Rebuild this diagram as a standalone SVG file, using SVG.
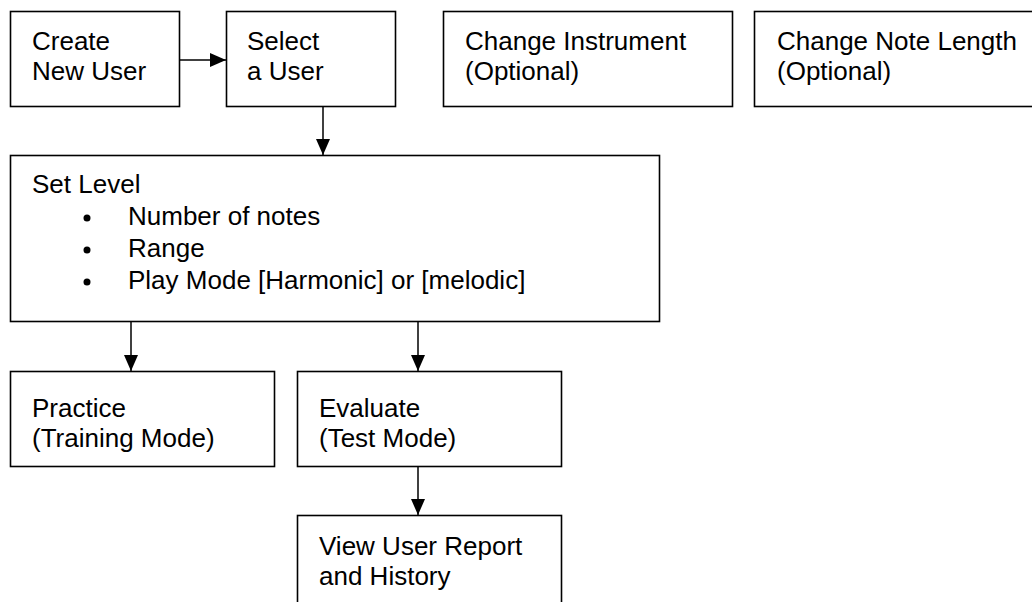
<svg xmlns="http://www.w3.org/2000/svg" width="1032" height="602" viewBox="0 0 1032 602">
<defs>
<marker id="arr" markerWidth="16" markerHeight="14" refX="16" refY="7" orient="auto" markerUnits="userSpaceOnUse">
<path d="M0,0 L16,7 L0,14 Z" fill="#000"/>
</marker>
<style>
.box{fill:#fff;stroke:#000;stroke-width:1.6}
.t{font-family:"Liberation Sans",Arial,sans-serif;font-size:26px;fill:#000}
.c{fill:none;stroke:#000;stroke-width:1.5}
</style>
</defs>
<rect width="1032" height="602" fill="#fff"/>
<g id="create">
<rect class="box" x="10.5" y="11.5" width="169" height="95"/>
<text class="t" x="32" y="50">Create</text>
<text class="t" x="32" y="80">New User</text>
</g>
<g id="select">
<rect class="box" x="226.5" y="11.5" width="169" height="95"/>
<text class="t" x="247" y="50">Select</text>
<text class="t" x="247" y="80">a User</text>
</g>
<g id="instrument">
<rect class="box" x="443.5" y="11.5" width="289" height="95"/>
<text class="t" x="465" y="50">Change Instrument</text>
<text class="t" x="465" y="80">(Optional)</text>
</g>
<g id="notelength">
<rect class="box" x="754.5" y="11.5" width="289" height="95"/>
<text class="t" x="777" y="50">Change Note Length</text>
<text class="t" x="777" y="80">(Optional)</text>
</g>
<g id="setlevel">
<rect class="box" x="10.5" y="155.5" width="649" height="166"/>
<text class="t" x="32" y="193">Set Level</text>
<circle cx="87" cy="218" r="3.5"/>
<text class="t" x="128" y="225">Number of notes</text>
<circle cx="87" cy="250" r="3.5"/>
<text class="t" x="128" y="257">Range</text>
<circle cx="87" cy="282" r="3.5"/>
<text class="t" x="128" y="289">Play Mode [Harmonic] or [melodic]</text>
</g>
<g id="practice">
<rect class="box" x="10.5" y="371.5" width="264" height="95"/>
<text class="t" x="32" y="417">Practice</text>
<text class="t" x="32" y="447">(Training Mode)</text>
</g>
<g id="evaluate">
<rect class="box" x="297.5" y="371.5" width="264" height="95"/>
<text class="t" x="319" y="417">Evaluate</text>
<text class="t" x="319" y="447">(Test Mode)</text>
</g>
<g id="report">
<rect class="box" x="297.5" y="515.5" width="264" height="120"/>
<text class="t" x="319" y="555">View User Report</text>
<text class="t" x="319" y="585">and History</text>
</g>
<g id="connectors">
<line class="c" x1="180" y1="60" x2="226" y2="60" marker-end="url(#arr)"/>
<line class="c" x1="323" y1="107" x2="323" y2="155" marker-end="url(#arr)"/>
<line class="c" x1="131" y1="322" x2="131" y2="371" marker-end="url(#arr)"/>
<line class="c" x1="418" y1="322" x2="418" y2="371" marker-end="url(#arr)"/>
<line class="c" x1="418" y1="467" x2="418" y2="515" marker-end="url(#arr)"/>
</g>
</svg>
